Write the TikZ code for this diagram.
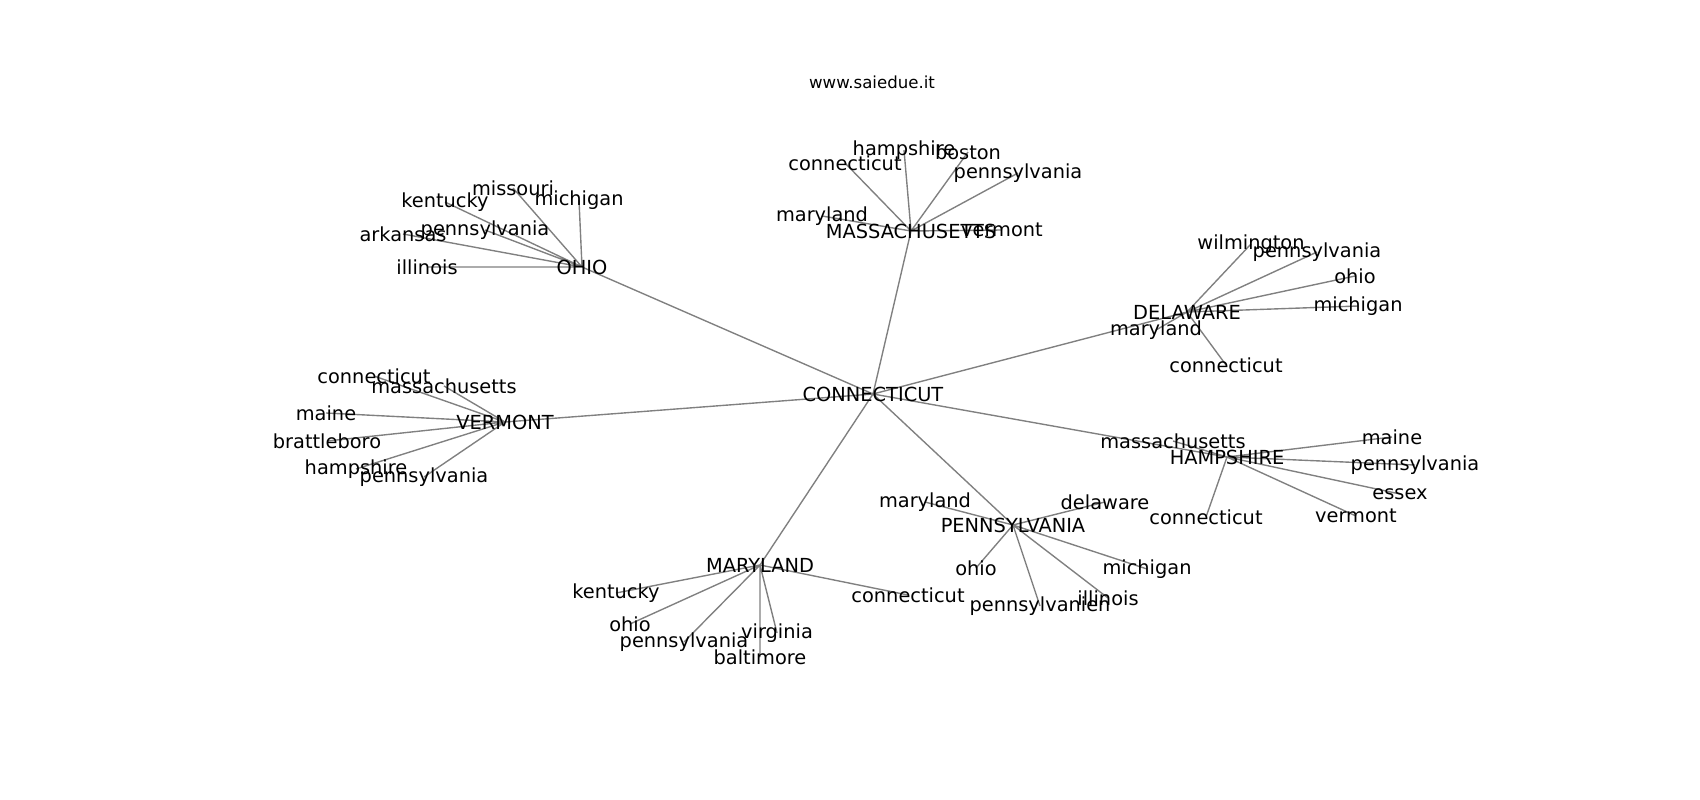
\documentclass[tikz,border=0pt]{standalone}
\usepackage{fontspec}
\setmainfont{DejaVu Sans}
\usepackage{tikz}
\pgfdeclarelayer{edges}
\pgfsetlayers{edges,main}
\tikzstyle{city} = [inner sep=0pt, font=\fontsize{14}{17}\selectfont]
\tikzstyle{site} = [inner sep=0pt, font=\fontsize{12}{14}\selectfont]
\tikzstyle{link} = [draw=gray, line width=1pt]

\begin{document}
\begin{tikzpicture}[x=0.254mm, y=-0.254mm]
	\useasboundingbox (0,0) rectangle (1700,800);
	\node (Site) [site] at (872,82) {www.saiedue.it};

	% states
	\node (CT) [city] at (873,394) {CONNECTICUT};
	\node (MA) [city] at (911,231) {MASSACHUSETTS};
	\node (OH) [city] at (582,267) {OHIO};
	\node (VT) [city] at (505,422) {VERMONT};
	\node (DE) [city] at (1187,312) {DELAWARE};
	\node (NH) [city] at (1227,457) {HAMPSHIRE};
	\node (PA) [city] at (1013,525) {PENNSYLVANIA};
	\node (MD) [city] at (760,565) {MARYLAND};

	% words next to each state
	\node (MAct) [city] at (845,163) {connecticut};
	\node (MAnh) [city] at (904,150) {hampshire};
	\node (MAbo) [city] at (968,152) {boston};
	\node (MApa) [city] at (1018,173) {pennsylvania};
	\node (MAmd) [city] at (822,216) {maryland};
	\node (MAvt) [city] at (1002,230) {vermont};

	\node (OHmo) [city] at (513,188) {missouri};
	\node (OHmi) [city] at (579,200) {michigan};
	\node (OHky) [city] at (445,202) {kentucky};
	\node (OHpa) [city] at (485,230) {pennsylvania};
	\node (OHar) [city] at (403,234) {arkansas};
	\node (OHil) [city] at (427,267) {illinois};

	\node (VTct) [city] at (374,376) {connecticut};
	\node (VTma) [city] at (444,386) {massachusetts};
	\node (VTme) [city] at (326,413) {maine};
	\node (VTbr) [city] at (327,441) {brattleboro};
	\node (VTnh) [city] at (356,469) {hampshire};
	\node (VTpa) [city] at (424,477) {pennsylvania};

	\node (DEwi) [city] at (1251,244) {wilmington};
	\node (DEpa) [city] at (1317,252) {pennsylvania};
	\node (DEoh) [city] at (1355,276) {ohio};
	\node (DEmi) [city] at (1358,306) {michigan};
	\node (DEmd) [city] at (1156,330) {maryland};
	\node (DEct) [city] at (1226,365) {connecticut};

	\node (NHma) [city] at (1173,441) {massachusetts};
	\node (NHme) [city] at (1392,437) {maine};
	\node (NHpa) [city] at (1415,465) {pennsylvania};
	\node (NHes) [city] at (1400,494) {essex};
	\node (NHvt) [city] at (1356,516) {vermont};
	\node (NHct) [city] at (1206,517) {connecticut};

	\node (PAmd) [city] at (925,502) {maryland};
	\node (PAde) [city] at (1105,502) {delaware};
	\node (PAoh) [city] at (976,568) {ohio};
	\node (PAmi) [city] at (1147,569) {michigan};
	\node (PAil) [city] at (1108,598) {illinois};
	\node (PApn) [city] at (1040,606) {pennsylvanien};

	\node (MDky) [city] at (616,593) {kentucky};
	\node (MDoh) [city] at (630,624) {ohio};
	\node (MDpa) [city] at (684,642) {pennsylvania};
	\node (MDva) [city] at (777,633) {virginia};
	\node (MDba) [city] at (760,657) {baltimore};
	\node (MDct) [city] at (908,595) {connecticut};

	\begin{pgfonlayer}{edges}
	\draw [link] (CT.center) -- (MA.center) (CT.center) -- (OH.center) (CT.center) -- (VT.center)
		(CT.center) -- (DE.center) (CT.center) -- (NH.center) (CT.center) -- (PA.center) (CT.center) -- (MD.center);
	\draw [link] (MA.center) -- (MAct.center) (MA.center) -- (MAnh.center) (MA.center) -- (MAbo.center)
		(MA.center) -- (MApa.center) (MA.center) -- (MAmd.center) (MA.center) -- (MAvt.center);
	\draw [link] (OH.center) -- (OHmo.center) (OH.center) -- (OHmi.center) (OH.center) -- (OHky.center)
		(OH.center) -- (OHpa.center) (OH.center) -- (OHar.center) (OH.center) -- (OHil.center);
	\draw [link] (VT.center) -- (VTct.center) (VT.center) -- (VTma.center) (VT.center) -- (VTme.center)
		(VT.center) -- (VTbr.center) (VT.center) -- (VTnh.center) (VT.center) -- (VTpa.center);
	\draw [link] (DE.center) -- (DEwi.center) (DE.center) -- (DEpa.center) (DE.center) -- (DEoh.center)
		(DE.center) -- (DEmi.center) (DE.center) -- (DEmd.center) (DE.center) -- (DEct.center);
	\draw [link] (NH.center) -- (NHma.center) (NH.center) -- (NHme.center) (NH.center) -- (NHpa.center)
		(NH.center) -- (NHes.center) (NH.center) -- (NHvt.center) (NH.center) -- (NHct.center);
	\draw [link] (PA.center) -- (PAmd.center) (PA.center) -- (PAde.center) (PA.center) -- (PAoh.center)
		(PA.center) -- (PAmi.center) (PA.center) -- (PAil.center) (PA.center) -- (PApn.center);
	\draw [link] (MD.center) -- (MDky.center) (MD.center) -- (MDoh.center) (MD.center) -- (MDpa.center)
		(MD.center) -- (MDva.center) (MD.center) -- (MDba.center) (MD.center) -- (MDct.center);
	\end{pgfonlayer}
\end{tikzpicture}
\end{document}
